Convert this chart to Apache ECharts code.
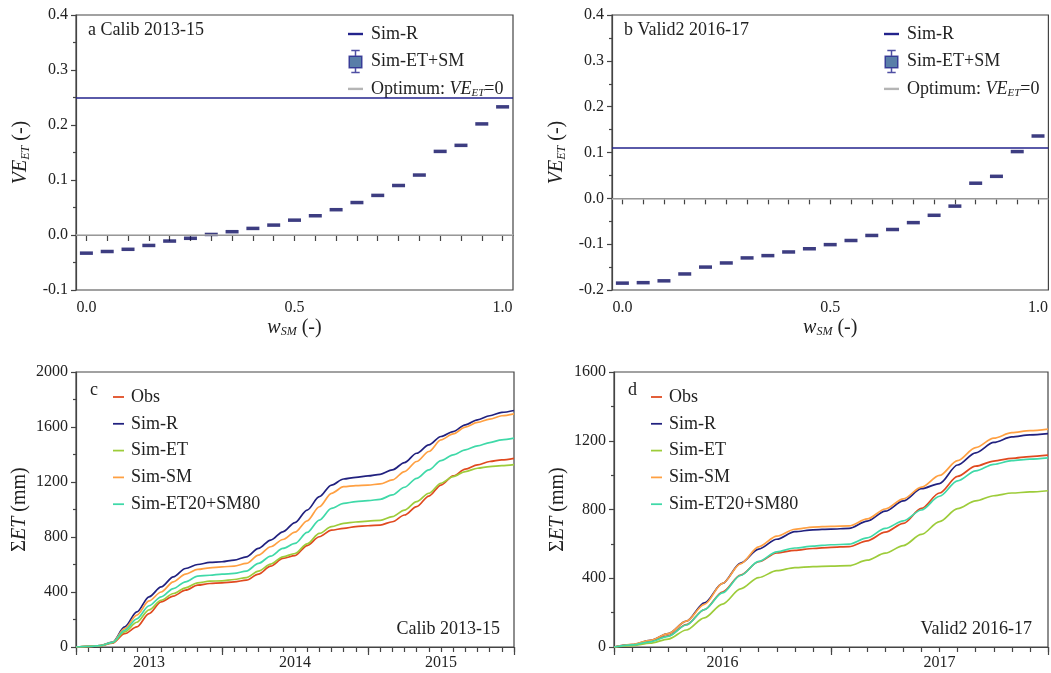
<!DOCTYPE html>
<html>
<head>
<meta charset="utf-8">
<script src="https://cdn.jsdelivr.net/npm/echarts@6/dist/echarts.min.js"></script>
<style>
html, body { margin: 0; padding: 0; background: #fff; }
.panel { position: absolute; left: 0; top: 0; width: 1051px; height: 673px; }
</style>
</head>
<body>
<div class="panel" id="chartA"></div>
<div class="panel" id="chartB"></div>
<div class="panel" id="chartC"></div>
<div class="panel" id="chartD"></div>
<script>
// weights w_SM (categories for panels a and b)
const wSM = ['0.00','0.05','0.10','0.15','0.20','0.25','0.30','0.35','0.40','0.45','0.50',
             '0.55','0.60','0.65','0.70','0.75','0.80','0.85','0.90','0.95','1.00'];

// VE_ET of Sim-ET+SM, calibration 2013-15 and validation 2016-17
const veCalib = [-0.033, -0.030, -0.026, -0.019, -0.011, -0.006, 0.001, 0.006, 0.012, 0.018, 0.027,
                 0.035, 0.046, 0.059, 0.072, 0.090, 0.109, 0.152, 0.163, 0.202, 0.233];
const veValid = [-0.185, -0.184, -0.180, -0.165, -0.150, -0.141, -0.130, -0.125, -0.117, -0.110, -0.101,
                 -0.092, -0.081, -0.068, -0.053, -0.037, -0.017, 0.033, 0.048, 0.102, 0.136];
const simRCalib = 0.253;
const simRValid = 0.113;

// cumulative ET (mm) at month starts, Jan 2013 .. Jan 2016
const yearsCalib = ['2013', '2014', '2015'];
const obsCalib  = [0, 3, 9, 28, 97, 146, 243, 328, 370, 413, 450, 462, 467, 474, 486, 530, 588, 644, 665, 738, 802, 850, 863, 875, 882, 887, 911, 960, 1021, 1098, 1178, 1244, 1293, 1324, 1349, 1361, 1372];
const simRCum   = [0, 4, 10, 35, 146, 255, 365, 437, 510, 571, 600, 615, 620, 632, 656, 717, 778, 838, 905, 996, 1093, 1178, 1222, 1234, 1244, 1256, 1288, 1341, 1409, 1470, 1531, 1567, 1616, 1652, 1682, 1706, 1720];
const simETCum  = [0, 4, 10, 32, 110, 180, 270, 340, 389, 430, 467, 479, 481, 491, 505, 552, 603, 656, 680, 750, 826, 875, 899, 909, 916, 921, 948, 996, 1057, 1118, 1191, 1239, 1276, 1300, 1312, 1319, 1326];
const simSMCum  = [0, 4, 10, 34, 134, 232, 335, 400, 474, 530, 564, 576, 583, 588, 608, 668, 729, 782, 835, 918, 1020, 1118, 1166, 1174, 1178, 1186, 1215, 1276, 1349, 1422, 1507, 1550, 1599, 1633, 1657, 1682, 1696];
const simMixCum = [0, 4, 10, 33, 121, 205, 300, 365, 425, 474, 515, 522, 530, 535, 552, 608, 661, 717, 753, 833, 923, 1008, 1045, 1057, 1064, 1074, 1106, 1162, 1227, 1288, 1356, 1397, 1434, 1463, 1487, 1507, 1519];

// cumulative ET (mm) at month starts, Jan 2016 .. Jan 2018
const yearsValid = ['2016', '2017'];
const obsValid   = [0, 12, 34, 65, 130, 218, 320, 418, 496, 547, 562, 573, 580, 584, 618, 668, 719, 806, 896, 993, 1052, 1082, 1098, 1108, 1116];
const simRValidC = [0, 14, 39, 78, 150, 257, 370, 488, 570, 627, 671, 682, 686, 690, 732, 790, 850, 921, 951, 1059, 1130, 1190, 1222, 1234, 1241];
const simETValid = [0, 8, 22, 46, 99, 170, 250, 338, 404, 444, 462, 468, 471, 473, 505, 546, 590, 655, 730, 805, 850, 880, 896, 902, 909];
const simSMValid = [0, 15, 39, 78, 150, 248, 370, 484, 583, 645, 685, 698, 702, 705, 745, 803, 862, 930, 998, 1084, 1160, 1215, 1247, 1259, 1268];
const simMixValid= [0, 12, 30, 62, 128, 218, 315, 416, 498, 554, 576, 587, 595, 598, 635, 690, 734, 797, 877, 967, 1025, 1063, 1084, 1093, 1100];

const SERIF = '"Liberation Serif", "DejaVu Serif", serif';
const INK = '#222';
const FRAME = '#444';
const NAVY = '#23238c';
const MARK = '#0c0c62';
const GREY = '#b5b5b5';
const C_OBS = '#e0491f', C_R = '#21217f', C_ET = '#9dcc3a', C_SM = '#ffa042', C_MIX = '#3fd9a8';
const LINE_ICON = 'path://M0,0L10,0L10,1.6L0,1.6Z';

function rich(big, small) {
  return {
    i: { fontFamily: SERIF, fontStyle: 'italic', fontSize: big, color: INK, lineHeight: 22 },
    r: { fontFamily: SERIF, fontSize: big, color: INK, lineHeight: 22 },
    s: { fontFamily: SERIF, fontStyle: 'italic', fontSize: small, color: INK, padding: [9, 0, 0, 0], lineHeight: small }
  };
}

const axisLine = { show: true, lineStyle: { color: FRAME, width: 1.2 } };
const tickStyle = { color: FRAME, width: 1.2 };
const labelStyle = { fontFamily: SERIF, fontSize: 16, color: INK };

function veChart(id, g, yMin, ve, simR, tag) {
  const chart = echarts.init(document.getElementById(id));
  chart.setOption({
    animation: false,
    title: { text: tag, left: g.left + 12, top: 21, padding: 0,
             textStyle: { fontFamily: SERIF, fontSize: 18, fontWeight: 'normal', color: INK } },
    legend: {
      orient: 'vertical', left: g.left + 267, top: 18, itemWidth: 15, itemHeight: 22, itemGap: 4.7,
      textStyle: { fontFamily: SERIF, fontSize: 18, color: INK, lineHeight: 22, padding: [0, 0, 0, 3], rich: rich(18, 11) },
      formatter: name => name === 'Optimum' ? 'Optimum: {i|VE}{s|ET}{r|=0}' : name,
      data: [
        { name: 'Sim-R', icon: LINE_ICON, itemStyle: { color: NAVY } },
        { name: 'Sim-ET+SM',
          icon: 'path://M3,0.5L11,0.5M7,0.5L7,6M1,6L13,6L13,17L1,17ZM7,17L7,21.5M3,21.5L11,21.5',
          itemStyle: { color: '#2f5e92', borderColor: NAVY, borderWidth: 1.5 } },
        { name: 'Optimum', icon: LINE_ICON, itemStyle: { color: GREY } }
      ]
    },
    grid: { left: g.left, top: 15, width: g.width, bottom: 383, show: true, borderColor: FRAME, borderWidth: 1.2 },
    xAxis: {
      type: 'category', data: wSM, boundaryGap: true,
      axisLine: axisLine,
      axisTick: { show: true, interval: 0, alignWithLabel: true, length: 6, lineStyle: tickStyle },
      axisLabel: Object.assign({ interval: 9, margin: 10, formatter: v => Number(v).toFixed(1) }, labelStyle),
      splitLine: { show: false },
      name: '{i|w}{s|SM}{r| (-)}', nameLocation: 'middle', nameGap: 25,
      nameTextStyle: { rich: rich(20, 12) }
    },
    yAxis: {
      type: 'value', min: yMin, max: 0.4, interval: 0.1,
      axisLine: axisLine,
      axisTick: { show: true, length: 5, lineStyle: tickStyle },
      minorTick: { show: true, splitNumber: 2, length: 3, lineStyle: tickStyle },
      splitLine: { show: false },
      axisLabel: Object.assign({ margin: 8, formatter: v => v.toFixed(1) }, labelStyle),
      name: '{i|VE}{s|ET}{r| (-)}', nameLocation: 'middle', nameGap: 44, nameRotate: 90,
      nameTextStyle: { rich: rich(20, 12) }
    },
    series: [
      { name: 'Optimum', type: 'line', data: [], symbol: 'none', lineStyle: { color: GREY, width: 1.6 },
        itemStyle: { color: GREY },
        markLine: { silent: true, symbol: 'none', label: { show: false },
                    lineStyle: { color: GREY, width: 1.6, type: 'solid' }, data: [{ yAxis: 0 }] } },
      { name: 'Sim-R', type: 'line', data: [], symbol: 'none', lineStyle: { color: NAVY, width: 1.6 },
        itemStyle: { color: NAVY },
        markLine: { silent: true, symbol: 'none', label: { show: false },
                    lineStyle: { color: NAVY, width: 1.6, type: 'solid' }, data: [{ yAxis: simR }] } },
      { name: 'Sim-ET+SM', type: 'scatter', data: ve, symbol: 'rect', symbolSize: [13, 3.5],
        itemStyle: { color: MARK } }
    ]
  });
}

function cumChart(id, g, yMax, years, lines, tag, note, noteRight) {
  const months = years.length * 12;
  const chart = echarts.init(document.getElementById(id));
  const names = ['Obs', 'Sim-R', 'Sim-ET', 'Sim-SM', 'Sim-ET20+SM80'];
  const colors = [C_OBS, C_R, C_ET, C_SM, C_MIX];
  chart.setOption({
    animation: false,
    title: [
      { text: tag, left: g.left + 14, top: 381, padding: 0,
        textStyle: { fontFamily: SERIF, fontSize: 18, fontWeight: 'normal', color: INK } },
      { text: note, right: noteRight, top: 620, padding: 0,
        textStyle: { fontFamily: SERIF, fontSize: 18, fontWeight: 'normal', color: INK } }
    ],
    legend: {
      orient: 'vertical', left: g.left + 32, top: 381, itemWidth: 11, itemHeight: 14, itemGap: 4.8,
      textStyle: { fontFamily: SERIF, fontSize: 18, color: INK, lineHeight: 22, padding: [0, 0, 0, 2] },
      data: names.map((n, k) => ({ name: n, icon: LINE_ICON, itemStyle: { color: colors[k] } }))
    },
    grid: { left: g.left, top: 372, right: g.right, bottom: 26, show: true, borderColor: FRAME, borderWidth: 1.2 },
    xAxis: [
      { type: 'value', min: 0, max: months, interval: 1, position: 'bottom',
        axisLine: axisLine,
        axisTick: { show: true, length: 5, lineStyle: tickStyle },
        axisLabel: Object.assign({ margin: 8,
          formatter: v => (v % 12 === 6 ? years[(v - 6) / 12] : '') }, labelStyle),
        splitLine: { show: false } },
      { type: 'value', min: 0, max: months, interval: 12, position: 'bottom', offset: 0,
        axisLine: { show: false },
        axisTick: { show: true, length: 8, lineStyle: tickStyle },
        axisLabel: { show: false }, splitLine: { show: false } }
    ],
    yAxis: {
      type: 'value', min: 0, max: yMax, interval: 400,
      axisLine: axisLine,
      axisTick: { show: true, length: 5, lineStyle: tickStyle },
      minorTick: { show: true, splitNumber: 2, length: 3, lineStyle: tickStyle },
      splitLine: { show: false },
      axisLabel: Object.assign({ margin: 8, formatter: v => String(v) }, labelStyle),
      name: '{r|Σ}{i|ET}{r| (mm)}', nameLocation: 'middle', nameGap: 45, nameRotate: 90,
      nameTextStyle: { rich: rich(20, 12) }
    },
    series: lines.map((vals, k) => ({
      name: names[k], type: 'line', xAxisIndex: 0, symbol: 'none',
      smooth: 0.3, smoothMonotone: 'x',
      lineStyle: { color: colors[k], width: 1.7 }, itemStyle: { color: colors[k] },
      data: vals.map((v, i) => [i, v])
    }))
  });
}

veChart('chartA', { left: 76, width: 437 }, -0.1, veCalib, simRCalib, 'a Calib 2013-15');
veChart('chartB', { left: 612, width: 437 }, -0.2, veValid, simRValid, 'b Valid2 2016-17');
cumChart('chartC', { left: 76, right: 537 }, 2000, yearsCalib,
  [obsCalib, simRCum, simETCum, simSMCum, simMixCum], 'c', 'Calib 2013-15', 551);
cumChart('chartD', { left: 614, right: -2 }, 1600, yearsValid,
  [obsValid, simRValidC, simETValid, simSMValid, simMixValid], 'd', 'Valid2 2016-17', 19);
</script>
</body>
</html>
